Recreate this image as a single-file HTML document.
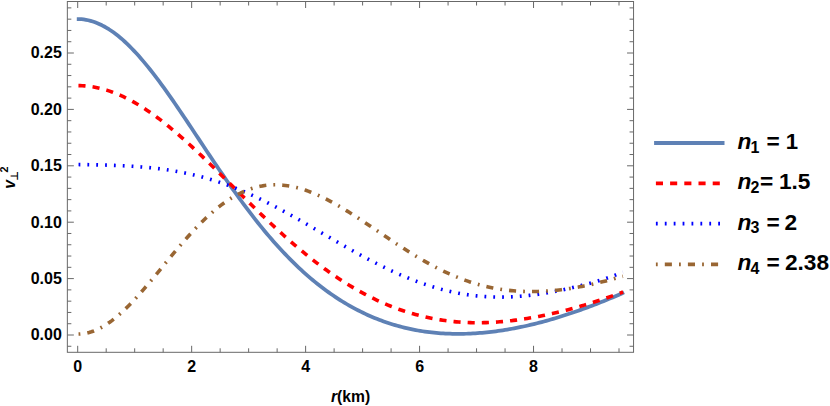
<!DOCTYPE html><html><head><meta charset="utf-8"><title>plot</title><style>html,body{margin:0;padding:0;background:#fff}svg{display:block}text{font-family:"Liberation Sans",sans-serif;font-weight:bold;fill:#000}</style></head><body>
<svg width="830" height="406" viewBox="0 0 830 406">
<rect width="830" height="406" fill="#fff"/>
<g fill="none" stroke-linecap="butt" stroke-linejoin="round">
<path d="M76.79,19.07 L79.08,19.09 L81.37,19.22 L83.66,19.46 L85.95,19.81 L88.24,20.27 L90.53,20.84 L92.82,21.51 L95.11,22.3 L97.4,23.19 L99.69,24.19 L101.98,25.3 L104.27,26.5 L106.56,27.81 L108.85,29.22 L111.14,30.73 L113.43,32.34 L115.72,34.04 L118.01,35.84 L120.3,37.72 L122.59,39.7 L124.88,41.76 L127.17,43.91 L129.46,46.14 L131.75,48.45 L134.04,50.84 L136.33,53.3 L138.62,55.84 L140.91,58.44 L143.2,61.11 L145.49,63.85 L147.78,66.65 L150.07,69.51 L152.36,72.42 L154.65,75.38 L156.94,78.4 L159.23,81.46 L161.52,84.57 L163.81,87.72 L166.1,90.91 L168.39,94.14 L170.68,97.4 L172.97,100.69 L175.26,104.01 L177.55,107.35 L179.84,110.72 L182.13,114.1 L184.41,117.51 L186.7,120.92 L188.99,124.35 L191.28,127.79 L193.57,131.24 L195.86,134.69 L198.15,138.14 L200.44,141.59 L202.73,145.04 L205.02,148.49 L207.31,151.93 L209.6,155.36 L211.89,158.78 L214.18,162.19 L216.47,165.58 L218.76,168.96 L221.05,172.32 L223.34,175.66 L225.63,178.98 L227.92,182.28 L230.21,185.55 L232.5,188.8 L234.79,192.02 L237.08,195.21 L239.37,198.37 L241.66,201.5 L243.95,204.6 L246.24,207.67 L248.53,210.71 L250.82,213.71 L253.11,216.67 L255.4,219.6 L257.69,222.49 L259.98,225.35 L262.27,228.16 L264.56,230.94 L266.85,233.68 L269.14,236.38 L271.43,239.05 L273.72,241.67 L276.01,244.25 L278.3,246.79 L280.59,249.29 L282.88,251.75 L285.17,254.16 L287.46,256.54 L289.75,258.88 L292.04,261.17 L294.33,263.42 L296.62,265.64 L298.91,267.81 L301.2,269.94 L303.49,272.03 L305.78,274.08 L308.07,276.08 L310.36,278.05 L312.65,279.98 L314.94,281.87 L317.23,283.72 L319.52,285.52 L321.81,287.29 L324.1,289.02 L326.39,290.72 L328.68,292.37 L330.97,293.99 L333.26,295.56 L335.55,297.11 L337.84,298.61 L340.13,300.08 L342.42,301.51 L344.71,302.9 L347.0,304.26 L349.29,305.58 L351.58,306.87 L353.87,308.13 L356.16,309.35 L358.45,310.53 L360.74,311.68 L363.03,312.8 L365.32,313.89 L367.61,314.94 L369.9,315.96 L372.19,316.95 L374.48,317.9 L376.77,318.83 L379.06,319.72 L381.35,320.59 L383.64,321.42 L385.93,322.22 L388.22,323.0 L390.51,323.74 L392.8,324.46 L395.09,325.14 L397.38,325.8 L399.67,326.43 L401.96,327.03 L404.25,327.6 L406.54,328.15 L408.83,328.67 L411.12,329.16 L413.41,329.63 L415.7,330.07 L417.99,330.48 L420.28,330.87 L422.57,331.24 L424.86,331.57 L427.15,331.89 L429.44,332.18 L431.73,332.44 L434.02,332.69 L436.31,332.91 L438.6,333.1 L440.89,333.27 L443.18,333.42 L445.47,333.55 L447.76,333.66 L450.05,333.74 L452.34,333.8 L454.63,333.85 L456.92,333.87 L459.21,333.87 L461.5,333.85 L463.79,333.81 L466.08,333.75 L468.37,333.67 L470.66,333.57 L472.95,333.45 L475.24,333.31 L477.53,333.16 L479.82,332.98 L482.11,332.79 L484.4,332.58 L486.69,332.35 L488.98,332.11 L491.27,331.85 L493.56,331.57 L495.85,331.27 L498.14,330.96 L500.43,330.63 L502.72,330.29 L505.0,329.93 L507.29,329.55 L509.58,329.16 L511.87,328.75 L514.16,328.32 L516.45,327.88 L518.74,327.43 L521.03,326.96 L523.32,326.47 L525.61,325.97 L527.9,325.46 L530.19,324.93 L532.48,324.39 L534.77,323.83 L537.06,323.26 L539.35,322.67 L541.64,322.07 L543.93,321.46 L546.22,320.83 L548.51,320.19 L550.8,319.53 L553.09,318.86 L555.38,318.18 L557.67,317.49 L559.96,316.78 L562.25,316.06 L564.54,315.33 L566.83,314.58 L569.12,313.83 L571.41,313.06 L573.7,312.28 L575.99,311.49 L578.28,310.69 L580.57,309.87 L582.86,309.05 L585.15,308.21 L587.44,307.37 L589.73,306.51 L592.02,305.65 L594.31,304.78 L596.6,303.89 L598.89,303.0 L601.18,302.09 L603.47,301.18 L605.76,300.25 L608.05,299.32 L610.34,298.37 L612.63,297.42 L614.92,296.44 L617.21,295.46 L619.5,294.46 L621.79,293.45 L624.08,292.41" stroke="#5e81b5" stroke-width="3.75"/>
<path d="M77.7,85.61 L79.98,85.64 L82.26,85.74 L84.55,85.88 L86.83,86.09 L89.11,86.35 L91.39,86.66 L93.67,87.03 L95.95,87.46 L98.24,87.94 L100.52,88.47 L102.8,89.06 L105.08,89.7 L107.36,90.39 L109.65,91.14 L111.93,91.93 L114.21,92.78 L116.49,93.68 L118.77,94.63 L121.05,95.63 L123.34,96.68 L125.62,97.77 L127.9,98.91 L130.18,100.1 L132.46,101.34 L134.75,102.62 L137.03,103.94 L139.31,105.31 L141.59,106.72 L143.87,108.18 L146.15,109.67 L148.44,111.2 L150.72,112.77 L153.0,114.38 L155.28,116.03 L157.56,117.72 L159.85,119.43 L162.13,121.19 L164.41,122.97 L166.69,124.79 L168.97,126.64 L171.25,128.52 L173.54,130.43 L175.82,132.36 L178.1,134.32 L180.38,136.31 L182.66,138.32 L184.95,140.36 L187.23,142.42 L189.51,144.5 L191.79,146.59 L194.07,148.71 L196.35,150.85 L198.64,153.0 L200.92,155.17 L203.2,157.35 L205.48,159.54 L207.76,161.75 L210.05,163.97 L212.33,166.2 L214.61,168.43 L216.89,170.68 L219.17,172.93 L221.45,175.19 L223.74,177.45 L226.02,179.71 L228.3,181.98 L230.58,184.25 L232.86,186.52 L235.15,188.79 L237.43,191.05 L239.71,193.32 L241.99,195.58 L244.27,197.84 L246.55,200.09 L248.84,202.34 L251.12,204.57 L253.4,206.81 L255.68,209.03 L257.96,211.24 L260.25,213.44 L262.53,215.64 L264.81,217.82 L267.09,219.98 L269.37,222.14 L271.65,224.28 L273.94,226.41 L276.22,228.52 L278.5,230.61 L280.78,232.69 L283.06,234.75 L285.35,236.8 L287.63,238.82 L289.91,240.83 L292.19,242.82 L294.47,244.79 L296.75,246.74 L299.04,248.67 L301.32,250.58 L303.6,252.46 L305.88,254.33 L308.16,256.17 L310.45,257.99 L312.73,259.79 L315.01,261.56 L317.29,263.32 L319.57,265.04 L321.86,266.75 L324.14,268.43 L326.42,270.08 L328.7,271.71 L330.98,273.32 L333.26,274.9 L335.55,276.46 L337.83,277.99 L340.11,279.49 L342.39,280.97 L344.67,282.43 L346.96,283.86 L349.24,285.26 L351.52,286.63 L353.8,287.99 L356.08,289.31 L358.36,290.61 L360.65,291.88 L362.93,293.12 L365.21,294.34 L367.49,295.53 L369.77,296.7 L372.06,297.84 L374.34,298.95 L376.62,300.04 L378.9,301.1 L381.18,302.13 L383.46,303.14 L385.75,304.12 L388.03,305.07 L390.31,306.0 L392.59,306.9 L394.87,307.78 L397.16,308.63 L399.44,309.45 L401.72,310.25 L404.0,311.02 L406.28,311.76 L408.56,312.48 L410.85,313.18 L413.13,313.84 L415.41,314.49 L417.69,315.1 L419.97,315.7 L422.26,316.26 L424.54,316.8 L426.82,317.32 L429.1,317.81 L431.38,318.28 L433.66,318.72 L435.95,319.14 L438.23,319.53 L440.51,319.9 L442.79,320.25 L445.07,320.57 L447.36,320.87 L449.64,321.15 L451.92,321.4 L454.2,321.63 L456.48,321.84 L458.76,322.02 L461.05,322.19 L463.33,322.33 L465.61,322.45 L467.89,322.55 L470.17,322.62 L472.46,322.68 L474.74,322.71 L477.02,322.73 L479.3,322.72 L481.58,322.7 L483.86,322.65 L486.15,322.59 L488.43,322.5 L490.71,322.4 L492.99,322.28 L495.27,322.14 L497.56,321.99 L499.84,321.81 L502.12,321.62 L504.4,321.41 L506.68,321.19 L508.96,320.95 L511.25,320.69 L513.53,320.41 L515.81,320.13 L518.09,319.82 L520.37,319.5 L522.66,319.17 L524.94,318.82 L527.22,318.45 L529.5,318.08 L531.78,317.69 L534.06,317.28 L536.35,316.86 L538.63,316.43 L540.91,315.98 L543.19,315.53 L545.47,315.06 L547.76,314.57 L550.04,314.07 L552.32,313.57 L554.6,313.04 L556.88,312.51 L559.16,311.96 L561.45,311.41 L563.73,310.84 L566.01,310.25 L568.29,309.66 L570.57,309.05 L572.86,308.43 L575.14,307.8 L577.42,307.16 L579.7,306.5 L581.98,305.83 L584.26,305.15 L586.55,304.46 L588.83,303.76 L591.11,303.04 L593.39,302.32 L595.67,301.58 L597.96,300.83 L600.24,300.07 L602.52,299.31 L604.8,298.53 L607.08,297.74 L609.36,296.94 L611.65,296.14 L613.93,295.33 L616.21,294.51 L618.49,293.69 L620.77,292.87 L623.06,292.04" stroke="#ff0000" stroke-width="3.6" stroke-dasharray="7.1 7.065" stroke-dashoffset="-0.75"/>
<path d="M77.7,164.56 L79.98,164.58 L82.26,164.6 L84.54,164.63 L86.82,164.66 L89.11,164.7 L91.39,164.74 L93.67,164.78 L95.95,164.83 L98.23,164.89 L100.51,164.94 L102.79,165.0 L105.07,165.07 L107.35,165.14 L109.64,165.22 L111.92,165.3 L114.2,165.39 L116.48,165.48 L118.76,165.58 L121.04,165.68 L123.32,165.79 L125.6,165.91 L127.88,166.04 L130.17,166.17 L132.45,166.31 L134.73,166.47 L137.01,166.63 L139.29,166.8 L141.57,166.98 L143.85,167.17 L146.13,167.37 L148.41,167.58 L150.7,167.81 L152.98,168.04 L155.26,168.29 L157.54,168.56 L159.82,168.83 L162.1,169.12 L164.38,169.43 L166.66,169.75 L168.94,170.09 L171.23,170.44 L173.51,170.81 L175.79,171.2 L178.07,171.6 L180.35,172.02 L182.63,172.46 L184.91,172.92 L187.19,173.4 L189.47,173.89 L191.76,174.4 L194.04,174.94 L196.32,175.49 L198.6,176.06 L200.88,176.65 L203.16,177.27 L205.44,177.9 L207.72,178.55 L210.0,179.22 L212.29,179.92 L214.57,180.63 L216.85,181.37 L219.13,182.12 L221.41,182.9 L223.69,183.69 L225.97,184.51 L228.25,185.35 L230.53,186.2 L232.82,187.08 L235.1,187.98 L237.38,188.89 L239.66,189.83 L241.94,190.78 L244.22,191.76 L246.5,192.75 L248.78,193.76 L251.06,194.79 L253.35,195.83 L255.63,196.9 L257.91,197.97 L260.19,199.07 L262.47,200.18 L264.75,201.31 L267.03,202.45 L269.31,203.61 L271.59,204.78 L273.88,205.96 L276.16,207.16 L278.44,208.37 L280.72,209.59 L283.0,210.82 L285.28,212.07 L287.56,213.32 L289.84,214.58 L292.12,215.86 L294.41,217.14 L296.69,218.43 L298.97,219.72 L301.25,221.02 L303.53,222.33 L305.81,223.65 L308.09,224.96 L310.37,226.29 L312.65,227.61 L314.94,228.94 L317.22,230.27 L319.5,231.6 L321.78,232.93 L324.06,234.27 L326.34,235.6 L328.62,236.93 L330.9,238.26 L333.18,239.59 L335.47,240.91 L337.75,242.23 L340.03,243.54 L342.31,244.86 L344.59,246.16 L346.87,247.46 L349.15,248.75 L351.43,250.04 L353.71,251.31 L356.0,252.58 L358.28,253.84 L360.56,255.09 L362.84,256.33 L365.12,257.56 L367.4,258.77 L369.68,259.98 L371.96,261.17 L374.24,262.35 L376.53,263.52 L378.81,264.67 L381.09,265.81 L383.37,266.93 L385.65,268.04 L387.93,269.13 L390.21,270.21 L392.49,271.27 L394.77,272.31 L397.06,273.34 L399.34,274.34 L401.62,275.33 L403.9,276.3 L406.18,277.25 L408.46,278.19 L410.74,279.1 L413.02,279.99 L415.3,280.86 L417.58,281.71 L419.87,282.54 L422.15,283.35 L424.43,284.14 L426.71,284.91 L428.99,285.65 L431.27,286.37 L433.55,287.07 L435.83,287.75 L438.11,288.4 L440.4,289.03 L442.68,289.64 L444.96,290.23 L447.24,290.79 L449.52,291.32 L451.8,291.84 L454.08,292.33 L456.36,292.79 L458.64,293.24 L460.93,293.65 L463.21,294.05 L465.49,294.42 L467.77,294.76 L470.05,295.09 L472.33,295.38 L474.61,295.66 L476.89,295.91 L479.17,296.13 L481.46,296.33 L483.74,296.51 L486.02,296.67 L488.3,296.8 L490.58,296.91 L492.86,296.99 L495.14,297.05 L497.42,297.09 L499.7,297.11 L501.99,297.1 L504.27,297.07 L506.55,297.02 L508.83,296.95 L511.11,296.85 L513.39,296.74 L515.67,296.6 L517.95,296.45 L520.23,296.27 L522.52,296.08 L524.8,295.86 L527.08,295.63 L529.36,295.37 L531.64,295.1 L533.92,294.82 L536.2,294.51 L538.48,294.19 L540.76,293.85 L543.05,293.49 L545.33,293.12 L547.61,292.74 L549.89,292.34 L552.17,291.92 L554.45,291.49 L556.73,291.05 L559.01,290.6 L561.29,290.13 L563.58,289.65 L565.86,289.15 L568.14,288.65 L570.42,288.13 L572.7,287.6 L574.98,287.06 L577.26,286.51 L579.54,285.94 L581.82,285.36 L584.11,284.78 L586.39,284.17 L588.67,283.56 L590.95,282.93 L593.23,282.29 L595.51,281.64 L597.79,280.97 L600.07,280.28 L602.35,279.57 L604.64,278.85 L606.92,278.1 L609.2,277.33 L611.48,276.54 L613.76,275.72 L616.04,274.87 L618.32,273.99 L620.6,273.08 L622.88,272.12" stroke="#0000ff" stroke-width="3.6" stroke-dasharray="1.8 7.046" stroke-dashoffset="-0.85"/>
<path d="M77.7,334.06 L79.98,334.0 L82.26,333.81 L84.54,333.5 L86.82,333.06 L89.11,332.5 L91.39,331.82 L93.67,331.02 L95.95,330.1 L98.23,329.07 L100.51,327.92 L102.79,326.66 L105.07,325.29 L107.35,323.82 L109.64,322.25 L111.92,320.58 L114.2,318.81 L116.48,316.96 L118.76,315.01 L121.04,312.99 L123.32,310.88 L125.6,308.7 L127.88,306.46 L130.17,304.14 L132.45,301.76 L134.73,299.33 L137.01,296.84 L139.29,294.3 L141.57,291.72 L143.85,289.1 L146.13,286.44 L148.41,283.76 L150.7,281.04 L152.98,278.31 L155.26,275.56 L157.54,272.79 L159.82,270.02 L162.1,267.24 L164.38,264.46 L166.66,261.69 L168.94,258.92 L171.23,256.16 L173.51,253.42 L175.79,250.7 L178.07,248.0 L180.35,245.32 L182.63,242.68 L184.91,240.07 L187.19,237.49 L189.47,234.95 L191.76,232.46 L194.04,230.01 L196.32,227.6 L198.6,225.25 L200.88,222.94 L203.16,220.7 L205.44,218.5 L207.72,216.37 L210.0,214.3 L212.29,212.29 L214.57,210.34 L216.85,208.46 L219.13,206.65 L221.41,204.9 L223.69,203.22 L225.97,201.62 L228.25,200.08 L230.53,198.62 L232.82,197.23 L235.1,195.91 L237.38,194.67 L239.66,193.5 L241.94,192.41 L244.22,191.39 L246.5,190.44 L248.78,189.57 L251.06,188.77 L253.35,188.05 L255.63,187.4 L257.91,186.83 L260.19,186.33 L262.47,185.9 L264.75,185.54 L267.03,185.25 L269.31,185.04 L271.59,184.89 L273.88,184.81 L276.16,184.8 L278.44,184.86 L280.72,184.98 L283.0,185.17 L285.28,185.42 L287.56,185.73 L289.84,186.1 L292.12,186.54 L294.41,187.03 L296.69,187.57 L298.97,188.17 L301.25,188.83 L303.53,189.54 L305.81,190.3 L308.09,191.11 L310.37,191.96 L312.65,192.86 L314.94,193.81 L317.22,194.8 L319.5,195.83 L321.78,196.9 L324.06,198.01 L326.34,199.16 L328.62,200.34 L330.9,201.55 L333.18,202.8 L335.47,204.08 L337.75,205.38 L340.03,206.71 L342.31,208.07 L344.59,209.45 L346.87,210.85 L349.15,212.27 L351.43,213.71 L353.71,215.17 L356.0,216.65 L358.28,218.13 L360.56,219.63 L362.84,221.14 L365.12,222.67 L367.4,224.19 L369.68,225.73 L371.96,227.27 L374.24,228.81 L376.53,230.36 L378.81,231.91 L381.09,233.45 L383.37,235.0 L385.65,236.54 L387.93,238.08 L390.21,239.61 L392.49,241.13 L394.77,242.65 L397.06,244.15 L399.34,245.65 L401.62,247.13 L403.9,248.61 L406.18,250.06 L408.46,251.51 L410.74,252.93 L413.02,254.34 L415.3,255.74 L417.58,257.11 L419.87,258.46 L422.15,259.8 L424.43,261.11 L426.71,262.4 L428.99,263.67 L431.27,264.91 L433.55,266.13 L435.83,267.32 L438.11,268.49 L440.4,269.63 L442.68,270.75 L444.96,271.84 L447.24,272.9 L449.52,273.93 L451.8,274.94 L454.08,275.91 L456.36,276.86 L458.64,277.78 L460.93,278.67 L463.21,279.53 L465.49,280.35 L467.77,281.15 L470.05,281.92 L472.33,282.65 L474.61,283.36 L476.89,284.04 L479.17,284.68 L481.46,285.3 L483.74,285.88 L486.02,286.44 L488.3,286.96 L490.58,287.46 L492.86,287.92 L495.14,288.36 L497.42,288.76 L499.7,289.14 L501.99,289.49 L504.27,289.81 L506.55,290.1 L508.83,290.36 L511.11,290.6 L513.39,290.81 L515.67,290.99 L517.95,291.15 L520.23,291.28 L522.52,291.38 L524.8,291.46 L527.08,291.52 L529.36,291.55 L531.64,291.56 L533.92,291.54 L536.2,291.51 L538.48,291.44 L540.76,291.36 L543.05,291.26 L545.33,291.13 L547.61,290.98 L549.89,290.81 L552.17,290.62 L554.45,290.41 L556.73,290.18 L559.01,289.93 L561.29,289.67 L563.58,289.38 L565.86,289.07 L568.14,288.75 L570.42,288.41 L572.7,288.04 L574.98,287.67 L577.26,287.27 L579.54,286.85 L581.82,286.42 L584.11,285.97 L586.39,285.51 L588.67,285.03 L590.95,284.53 L593.23,284.01 L595.51,283.49 L597.79,282.94 L600.07,282.38 L602.35,281.81 L604.64,281.23 L606.92,280.64 L609.2,280.03 L611.48,279.42 L613.76,278.8 L616.04,278.17 L618.32,277.55 L620.6,276.92 L622.88,276.29" stroke="#996633" stroke-width="3.6" stroke-dasharray="1.8 7.063 7.063 7.063" stroke-dashoffset="-0.85"/>
</g>
<g stroke="#686868" stroke-width="1" fill="none">
<rect x="67.35" y="1.5" width="566.2" height="350.8"/>
<path d="M77.7,352.3v-6.5M77.7,1.5v6.5M106.19,352.3v-4M106.19,1.5v4M134.68,352.3v-4M134.68,1.5v4M163.17,352.3v-4M163.17,1.5v4M191.66,352.3v-6.5M191.66,1.5v6.5M220.15,352.3v-4M220.15,1.5v4M248.64,352.3v-4M248.64,1.5v4M277.13,352.3v-4M277.13,1.5v4M305.62,352.3v-6.5M305.62,1.5v6.5M334.11,352.3v-4M334.11,1.5v4M362.6,352.3v-4M362.6,1.5v4M391.09,352.3v-4M391.09,1.5v4M419.58,352.3v-6.5M419.58,1.5v6.5M448.07,352.3v-4M448.07,1.5v4M476.56,352.3v-4M476.56,1.5v4M505.05,352.3v-4M505.05,1.5v4M533.54,352.3v-6.5M533.54,1.5v6.5M562.03,352.3v-4M562.03,1.5v4M590.52,352.3v-4M590.52,1.5v4M619.01,352.3v-4M619.01,1.5v4M67.35,346.28h4M633.55,346.28h-4M67.35,335.0h6.5M633.55,335.0h-6.5M67.35,323.72h4M633.55,323.72h-4M67.35,312.44h4M633.55,312.44h-4M67.35,301.16h4M633.55,301.16h-4M67.35,289.88h4M633.55,289.88h-4M67.35,278.6h6.5M633.55,278.6h-6.5M67.35,267.32h4M633.55,267.32h-4M67.35,256.04h4M633.55,256.04h-4M67.35,244.76h4M633.55,244.76h-4M67.35,233.48h4M633.55,233.48h-4M67.35,222.2h6.5M633.55,222.2h-6.5M67.35,210.92h4M633.55,210.92h-4M67.35,199.64h4M633.55,199.64h-4M67.35,188.36h4M633.55,188.36h-4M67.35,177.08h4M633.55,177.08h-4M67.35,165.8h6.5M633.55,165.8h-6.5M67.35,154.52h4M633.55,154.52h-4M67.35,143.24h4M633.55,143.24h-4M67.35,131.96h4M633.55,131.96h-4M67.35,120.68h4M633.55,120.68h-4M67.35,109.4h6.5M633.55,109.4h-6.5M67.35,98.12h4M633.55,98.12h-4M67.35,86.84h4M633.55,86.84h-4M67.35,75.56h4M633.55,75.56h-4M67.35,64.28h4M633.55,64.28h-4M67.35,53.0h6.5M633.55,53.0h-6.5M67.35,41.72h4M633.55,41.72h-4M67.35,30.44h4M633.55,30.44h-4M67.35,19.16h4M633.55,19.16h-4M67.35,7.88h4M633.55,7.88h-4"/>
</g>
<g fill="#000">
<text x="73.25" y="371.9" font-size="16">0</text>
<text x="187.21" y="371.9" font-size="16">2</text>
<text x="301.17" y="371.9" font-size="16">4</text>
<text x="415.13" y="371.9" font-size="16">6</text>
<text x="529.09" y="371.9" font-size="16">8</text>
<text x="30.66" y="340.4" font-size="16">0.00</text>
<text x="30.66" y="284.0" font-size="16">0.05</text>
<text x="30.66" y="227.6" font-size="16">0.10</text>
<text x="30.66" y="171.2" font-size="16">0.15</text>
<text x="30.66" y="114.8" font-size="16">0.20</text>
<text x="30.66" y="58.4" font-size="16">0.25</text>
<text x="330.98" y="401.8" font-size="15.7"><tspan font-style="italic">r</tspan>(km)</text>
<g transform="translate(15,188.7) rotate(-90)"><text x="0" y="0" font-size="16" font-style="italic">v</text><text x="8" y="3" font-size="10.5" style="font-family:'Liberation Sans','DejaVu Sans',sans-serif">⊥</text><text x="16.3" y="-6.7" font-size="10.8" font-weight="normal">2</text></g>
<path d="M654.1,143.0H724.5" stroke="#5e81b5" stroke-width="3.8" fill="none"/>
<text x="737.4" y="149.0" font-size="22.7" font-style="italic">n</text>
<text x="750.54" y="152.75" font-size="16" font-weight="normal">1</text>
<text x="766.6" y="149.0" font-size="22.7">=</text>
<text x="785.86" y="149.0" font-size="22.2">1</text>
<path d="M655.9,183.4H724.5" stroke="#ff0000" stroke-width="3.6" stroke-dasharray="7.1 7.1" fill="none"/>
<text x="737.4" y="189.4" font-size="22.7" font-style="italic">n</text>
<text x="750.46" y="193.15" font-size="16" font-weight="normal">2</text>
<text x="760.1" y="189.4" font-size="22.7">=</text>
<text x="778.9" y="189.4" font-size="22.7">1.5</text>
<path d="M655.9,223.6H724.5" stroke="#0000ff" stroke-width="3.6" stroke-dasharray="1.8 7.1" fill="none"/>
<text x="737.4" y="229.6" font-size="22.7" font-style="italic">n</text>
<text x="750.46" y="233.35" font-size="16" font-weight="normal">3</text>
<text x="766.6" y="229.6" font-size="22.7">=</text>
<text x="784.39" y="229.6" font-size="22.7">2</text>
<path d="M655.9,264.4H724.5" stroke="#996633" stroke-width="3.6" stroke-dasharray="1.8 7.1 7.1 7.1" fill="none"/>
<text x="737.4" y="270.4" font-size="22.7" font-style="italic">n</text>
<text x="750.46" y="274.15" font-size="16" font-weight="normal">4</text>
<text x="766.6" y="270.4" font-size="22.7">=</text>
<text x="784.89" y="270.4" font-size="22.7">2.38</text>
</g>
</svg></body></html>
